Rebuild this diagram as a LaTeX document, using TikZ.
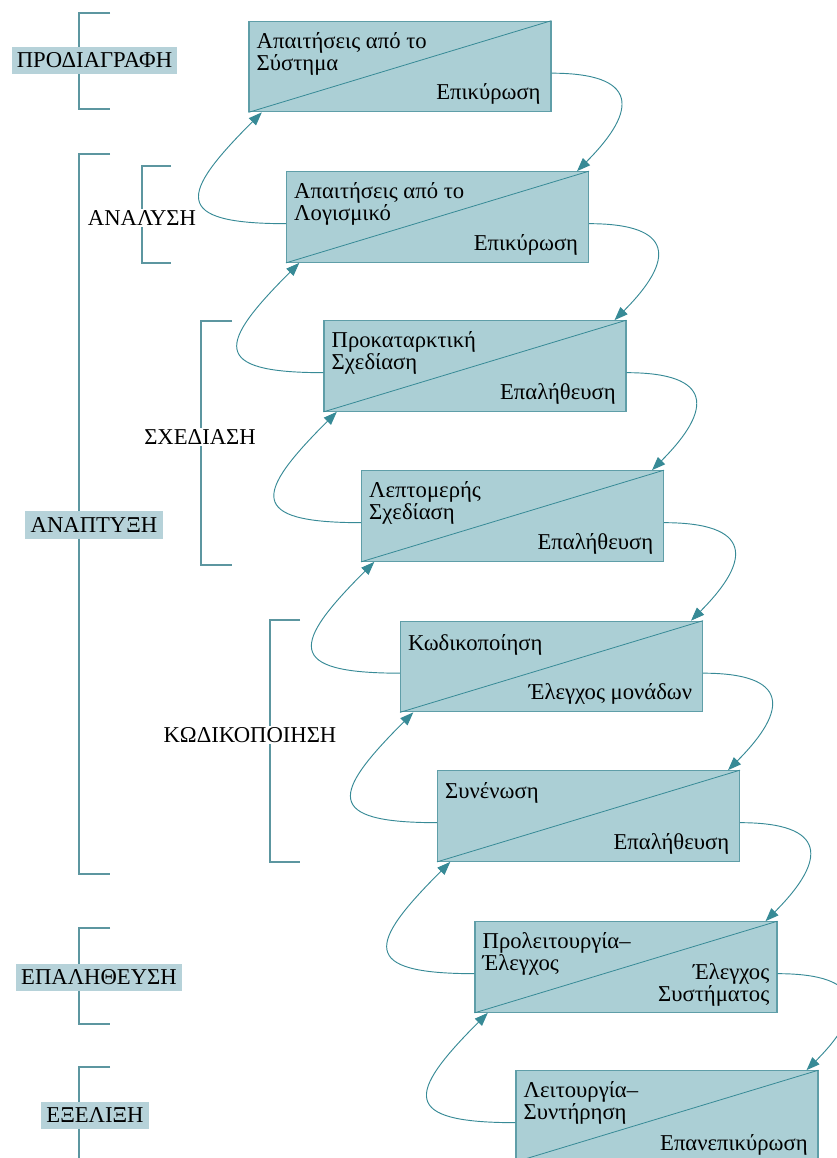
\documentclass[tikz,border=0pt]{standalone}
\usepackage{fontspec}
\setmainfont{Liberation Serif}
\usetikzlibrary{arrows.meta,positioning}

\definecolor{stagefill}{RGB}{171,207,213}
\definecolor{stageline}{RGB}{95,158,168}
\definecolor{phasefill}{RGB}{182,210,217}
\definecolor{linkcol}{RGB}{55,138,150}
\definecolor{bracketcol}{RGB}{92,150,160}

\tikzset{
  stage/.style={draw=stageline, fill=stagefill, line width=0.8pt,
    minimum width=226.5pt, minimum height=68pt, inner sep=0pt},
  diag/.style={draw=linkcol, line width=0.6pt},
  intext/.style={inner sep=0pt, align=left, font=\fontsize{17}{16.5}\selectfont},
  outtext/.style={inner sep=0pt, align=right, font=\fontsize{17}{16.5}\selectfont},
  link/.style={draw=linkcol, line width=0.7pt, -{Triangle[length=10pt,width=7.5pt]}},
  bracket/.style={draw=bracketcol, line width=0.8pt},
  phase/.style={fill=phasefill, inner xsep=4pt, minimum height=20.5pt,
    font=\fontsize{17}{18}\selectfont},
  subphase/.style={fill=white, inner sep=1pt, font=\fontsize{17}{18}\selectfont}
}

\begin{document}
\begin{tikzpicture}[x=0.75pt,y=0.75pt]
  \useasboundingbox (0,0) rectangle (837,-1158);
  \clip (0,0) rectangle (837,-1158);

  \draw[bracket] (110,-13) -- (79,-13) -- (79,-109) -- (110,-109);
  \draw[bracket] (110,-154) -- (79,-154) -- (79,-874) -- (110,-874);
  \draw[bracket] (171,-166) -- (142,-166) -- (142,-263) -- (171,-263);
  \draw[bracket] (232,-321) -- (201,-321) -- (201,-565) -- (232,-565);
  \draw[bracket] (300,-620) -- (270,-620) -- (270,-862) -- (300,-862);
  \draw[bracket] (110,-928) -- (79,-928) -- (79,-1024) -- (110,-1024);
  \draw[bracket] (110,-1067) -- (79,-1067) -- (79,-1170);

  \node[phase] (spec) at (94.5,-60.5) {ΠΡΟΔΙΑΓΡΑΦΗ};
  \node[subphase] (anal) at (142,-218) {ΑΝΑΛΥΣΗ};
  \node[phase] (devel) at (94,-525) {ΑΝΑΠΤΥΞΗ};
  \node[subphase] (desg) at (200,-437) {ΣΧΕΔΙΑΣΗ};
  \node[subphase] (codg) at (250,-735) {ΚΩΔΙΚΟΠΟΙΗΣΗ};
  \node[phase] (verif) at (99,-977.5) {ΕΠΑΛΗΘΕΥΣΗ};
  \node[phase] (evol) at (95,-1115.5) {ΕΞΕΛΙΞΗ};

  \node[stage] (b1) at (400,-66.5) {};
  \node[stage] (b2) at (437.5,-217) {};
  \node[stage] (b3) at (475,-366) {};
  \node[stage] (b4) at (512.5,-516) {};
  \node[stage] (b5) at (551.5,-666.5) {};
  \node[stage] (b6) at (588.5,-816) {};
  \node[stage] (b7) at (626,-967) {};
  \node[stage] (b8) at (667,-1116) {};

  \draw[diag] (b1.south west) -- (b1.north east);
  \draw[diag] (b2.south west) -- (b2.north east);
  \draw[diag] (b3.south west) -- (b3.north east);
  \draw[diag] (b4.south west) -- (b4.north east);
  \draw[diag] (b5.south west) -- (b5.north east);
  \draw[diag] (b6.south west) -- (b6.north east);
  \draw[diag] (b7.south west) -- (b7.north east);
  \draw[diag] (b8.south west) -- (b8.north east);

  \node[intext, below right=8.5pt and 6pt of b1.north west] (i1) {Απαιτήσεις από το\\Σύστημα};
  \node[outtext, above left=5.5pt and 8pt of b1.south east] (o1) {Επικύρωση};
  \node[intext, below right=8.5pt and 6pt of b2.north west] (i2) {Απαιτήσεις από το\\Λογισμικό};
  \node[outtext, above left=5.5pt and 8pt of b2.south east] (o2) {Επικύρωση};
  \node[intext, below right=8.5pt and 6pt of b3.north west] (i3) {Προκαταρκτική\\Σχεδίαση};
  \node[outtext, above left=5.5pt and 8pt of b3.south east] (o3) {Επαλήθευση};
  \node[intext, below right=8.5pt and 6pt of b4.north west] (i4) {Λεπτομερής\\Σχεδίαση};
  \node[outtext, above left=5.5pt and 8pt of b4.south east] (o4) {Επαλήθευση};
  \node[intext, below right=10pt and 6pt of b5.north west] (i5) {Κωδικοποίηση};
  \node[outtext, above left=5.5pt and 8pt of b5.south east] (o5) {Έλεγχος μονάδων};
  \node[intext, below right=9pt and 6pt of b6.north west] (i6) {Συνένωση};
  \node[outtext, above left=5.5pt and 8pt of b6.south east] (o6) {Επαλήθευση};
  \node[intext, below right=8.5pt and 6pt of b7.north west] (i7) {Προλειτουργία–\\Έλεγχος};
  \node[outtext, above left=5pt and 6pt of b7.south east] (o7) {Έλεγχος\\Συστήματος};
  \node[intext, below right=8.5pt and 6pt of b8.north west] (i8) {Λειτουργία–\\Συντήρηση};
  \node[outtext, above left=5pt and 8pt of b8.south east] (o8) {Επανεπικύρωση};

  \draw[link] ([yshift=-5pt]b1.east) to[out=0,in=45,looseness=2.2] ([xshift=-9pt]b2.north east);
  \draw[link] ([yshift=-5pt]b2.east) to[out=0,in=45,looseness=2.2] ([xshift=-9pt]b3.north east);
  \draw[link] ([yshift=-5pt]b3.east) to[out=0,in=45,looseness=2.2] ([xshift=-9pt]b4.north east);
  \draw[link] ([yshift=-5pt]b4.east) to[out=0,in=45,looseness=2.2] ([xshift=-9pt]b5.north east);
  \draw[link] ([yshift=-5pt]b5.east) to[out=0,in=45,looseness=2.2] ([xshift=-9pt]b6.north east);
  \draw[link] ([yshift=-5pt]b6.east) to[out=0,in=45,looseness=2.2] ([xshift=-9pt]b7.north east);
  \draw[link] ([yshift=-5pt]b7.east) to[out=0,in=45,looseness=2.2] ([xshift=-9pt]b8.north east);

  \draw[link] ([yshift=-5pt]b2.west) to[out=180,in=225,looseness=2.6] ([xshift=10pt]b1.south west);
  \draw[link] ([yshift=-5pt]b3.west) to[out=180,in=225,looseness=2.6] ([xshift=10pt]b2.south west);
  \draw[link] ([yshift=-5pt]b4.west) to[out=180,in=225,looseness=2.6] ([xshift=10pt]b3.south west);
  \draw[link] ([yshift=-5pt]b5.west) to[out=180,in=225,looseness=2.6] ([xshift=10pt]b4.south west);
  \draw[link] ([yshift=-5pt]b6.west) to[out=180,in=225,looseness=2.6] ([xshift=10pt]b5.south west);
  \draw[link] ([yshift=-5pt]b7.west) to[out=180,in=225,looseness=2.6] ([xshift=10pt]b6.south west);
  \draw[link] ([yshift=-5pt]b8.west) to[out=180,in=225,looseness=2.6] ([xshift=10pt]b7.south west);
\end{tikzpicture}
\end{document}
